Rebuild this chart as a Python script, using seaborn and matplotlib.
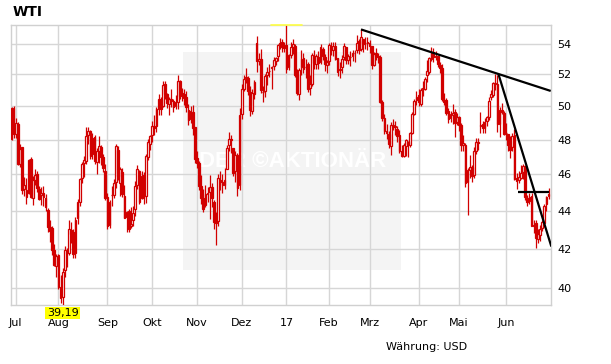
import numpy as np
import pandas as pd
import seaborn as sns
import matplotlib.pyplot as plt
from matplotlib.patches import Rectangle
from matplotlib.ticker import FixedLocator, NullLocator, FixedFormatter

# --------------------------------------------------------------------
# Daten: WTI Tageskerzen 29.06.2016 - 29.06.2017 (USD)
# --------------------------------------------------------------------
holidays = ["2016-07-04", "2016-09-05", "2016-11-24", "2016-12-26", "2017-01-02",
            "2017-01-16", "2017-02-20", "2017-04-14", "2017-05-29"]

opens = [
    48.02, 49.89,
    48.33, 48.91, 46.56, 47.56, 45.19, 45.15, 44.98, 46.89, 44.70, 45.67, 45.99, 45.20, 44.87, 44.94, 44.69, 44.01, 43.10, 43.05, 41.93, 41.11,
    41.65, 40.07, 39.59, 40.91, 41.76, 41.78, 42.96, 42.84, 41.75, 43.58, 44.49, 45.82, 46.64, 46.75, 48.26, 48.50, 47.18, 48.18, 46.72, 47.33, 47.58, 46.98, 46.20,
    44.72, 43.25, 44.83, 44.85, 45.56, 47.40, 45.49, 46.15, 44.82, 43.67, 43.95, 43.17, 43.47, 44.09, 45.40, 46.16, 44.67, 45.98, 44.77, 46.96, 47.72,
    48.30, 48.80, 48.80, 49.83, 50.46, 50.02, 51.40, 50.76, 50.12, 50.46, 50.34, 50.00, 50.28, 51.56, 50.78, 50.75, 50.60, 49.75, 49.23, 49.65, 48.74,
    46.92, 46.65, 45.34, 44.68, 44.28, 44.93, 45.00, 45.27, 44.49, 43.44, 43.43, 45.70, 45.55, 45.40, 46.32, 47.70, 48.03, 47.50, 46.16, 47.08, 45.40,
    49.53, 51.05, 51.80, 51.76, 50.91, 49.72, 50.79, 54.01, 52.86, 53.00, 50.88, 50.95, 51.95, 52.18, 52.38, 52.50, 52.88, 53.16, 53.98, 54.10, 53.87,
    53.87, 52.49, 53.22, 53.78, 53.86, 52.01, 50.73, 52.45, 53.06, 52.45, 52.67, 51.15, 51.40, 53.16, 52.65, 53.10, 52.82, 53.67, 53.13, 52.62,
    52.87, 53.80, 53.57, 53.85, 53.03, 52.25, 52.48, 53.10, 53.78, 52.95, 53.10, 53.15, 53.37, 53.60, 54.20, 53.64, 54.32, 54.01, 54.12,
    54.06, 53.81, 52.59, 53.35, 53.20, 53.11, 50.28, 49.31, 48.49, 48.35, 47.63, 48.87, 48.72, 48.62, 48.28, 47.34, 47.07, 47.62, 47.83, 47.71, 48.41, 49.50, 50.40,
    50.71, 50.15, 51.09, 51.10, 51.96, 52.13, 53.00, 53.41, 53.10, 53.15, 52.61, 52.40, 50.40, 50.38, 49.73, 49.26, 49.44, 49.66, 49.03,
    49.33, 48.89, 47.67, 47.67, 45.55, 46.25, 46.40, 45.94, 47.33, 47.82, 48.78, 48.91, 48.70, 49.10, 49.32, 50.60, 50.70, 51.47, 51.37, 48.94, 49.79, 49.61,
    48.36, 48.35, 47.63, 47.57, 48.28, 45.77, 45.66, 45.82, 46.14, 46.44, 44.67, 44.50, 44.81, 43.17, 43.31, 42.48, 42.71, 43.05, 43.36, 44.35, 44.81,
]
highs = [
    49.95, 50.00,
    49.27, 49.04, 47.76, 47.57, 45.83, 45.79, 46.90, 46.98, 45.91, 46.30, 46.19, 45.33, 45.29, 45.35, 44.88, 44.12, 43.47, 43.19, 42.23, 41.74,
    41.70, 40.65, 41.00, 42.14, 42.03, 43.52, 43.41, 43.02, 43.64, 44.61, 45.79, 46.72, 47.06, 48.75, 48.75, 48.57, 48.38, 48.28, 47.53, 48.20, 47.68, 47.17, 46.58,
    44.98, 44.57, 45.35, 45.75, 47.75, 47.60, 46.43, 46.35, 45.40, 44.00, 44.11, 44.18, 44.26, 45.62, 46.55, 46.24, 46.21, 46.15, 47.16, 48.06, 48.30,
    49.13, 49.47, 49.95, 50.74, 50.55, 51.60, 51.60, 50.80, 50.55, 51.07, 50.48, 50.70, 51.93, 51.64, 51.13, 51.05, 50.94, 50.12, 50.03, 50.07, 48.76,
    47.34, 46.76, 45.95, 45.19, 45.41, 45.30, 45.95, 45.49, 44.59, 43.90, 46.00, 46.20, 46.00, 46.35, 47.70, 48.45, 48.25, 47.50, 47.35, 47.23, 49.89,
    51.39, 51.98, 52.42, 51.90, 51.25, 51.05, 51.65, 54.51, 53.39, 53.62, 51.24, 52.00, 52.46, 52.67, 52.55, 53.10, 53.12, 53.95, 54.37, 54.30, 54.09,
    55.24, 53.31, 54.10, 54.30, 53.97, 52.36, 52.41, 53.60, 53.38, 52.96, 52.82, 51.93, 53.35, 53.58, 53.30, 53.48, 53.94, 53.75, 53.32, 52.91,
    54.03, 54.12, 54.08, 54.07, 53.07, 52.82, 53.24, 54.03, 53.80, 53.32, 53.50, 53.58, 53.55, 54.59, 54.33, 54.94, 54.33, 54.45, 54.42,
    54.24, 53.82, 53.45, 53.73, 53.40, 53.23, 50.37, 49.50, 48.91, 48.51, 49.04, 49.25, 49.08, 48.80, 48.58, 47.67, 47.78, 48.04, 47.89, 48.45, 49.65, 50.43, 50.92,
    51.07, 51.16, 51.60, 51.84, 52.94, 53.13, 53.76, 53.69, 53.49, 53.22, 52.80, 52.64, 50.84, 50.49, 49.92, 49.74, 50.13, 49.82, 49.58,
    49.43, 48.96, 48.25, 47.78, 46.33, 47.08, 46.53, 47.55, 48.12, 48.08, 49.66, 49.11, 49.28, 49.38, 50.55, 51.00, 51.53, 52.00, 51.96, 49.94, 50.20, 49.71,
    48.99, 48.35, 48.20, 48.40, 48.65, 46.07, 46.21, 46.55, 46.60, 46.53, 44.84, 44.95, 44.98, 43.50, 43.50, 43.02, 43.23, 43.50, 44.37, 44.82, 45.23,
]
lows = [
    48.00, 48.07,
    48.11, 46.51, 46.39, 44.93, 44.77, 44.36, 44.88, 44.71, 44.29, 45.40, 45.02, 44.55, 44.32, 44.27, 43.98, 42.85, 42.35, 41.66, 41.13, 40.57,
    39.99, 39.30, 39.19, 40.54, 41.06, 41.69, 42.27, 41.49, 41.50, 43.28, 44.23, 45.53, 45.83, 46.58, 47.74, 46.88, 46.87, 46.60, 46.04, 46.63, 46.53, 46.12, 44.58,
    43.00, 43.08, 44.25, 44.67, 45.22, 45.67, 44.77, 44.76, 43.58, 42.86, 42.88, 43.06, 43.16, 43.73, 45.19, 44.34, 44.62, 44.35, 44.42, 46.82, 47.37,
    47.83, 48.25, 48.47, 49.48, 49.49, 49.95, 50.42, 49.90, 49.49, 49.98, 49.66, 49.86, 49.83, 50.46, 50.31, 50.05, 49.68, 48.86, 48.98, 48.29, 46.63,
    46.33, 45.14, 44.37, 43.94, 44.22, 44.44, 43.57, 44.21, 43.02, 42.20, 43.19, 45.10, 44.95, 45.20, 46.30, 47.33, 47.23, 45.88, 45.59, 44.82, 45.12,
    49.20, 50.93, 51.47, 50.72, 49.38, 49.51, 50.43, 52.16, 52.60, 50.81, 50.26, 50.59, 51.32, 51.82, 51.05, 52.30, 52.62, 52.85, 53.66, 53.41, 53.41,
    52.11, 52.28, 53.02, 53.33, 51.80, 50.71, 50.41, 51.97, 52.10, 51.79, 50.91, 50.71, 51.23, 52.37, 52.35, 52.35, 52.67, 52.90, 52.24, 52.06,
    52.60, 53.25, 53.20, 52.95, 51.90, 51.76, 52.10, 52.95, 52.66, 52.65, 52.53, 52.87, 52.81, 53.38, 53.29, 53.50, 53.43, 53.62, 53.58,
    53.40, 52.37, 52.55, 52.93, 52.75, 50.22, 49.11, 48.34, 48.06, 47.51, 47.09, 48.58, 48.30, 47.86, 47.23, 47.01, 46.96, 47.05, 46.96, 47.58, 48.32, 49.45, 50.07,
    50.02, 49.99, 50.61, 51.02, 51.49, 52.05, 52.85, 52.82, 52.90, 52.49, 52.10, 50.31, 50.11, 49.46, 48.97, 49.03, 48.93, 48.18, 48.86,
    48.51, 47.35, 47.35, 45.27, 43.76, 45.80, 45.55, 45.81, 47.16, 47.39, 48.40, 48.39, 48.40, 48.79, 49.14, 50.37, 50.56, 51.00, 48.45, 48.18, 49.52, 48.28,
    47.95, 47.31, 46.95, 47.31, 45.70, 45.20, 45.52, 45.71, 45.76, 44.60, 44.24, 44.36, 43.16, 42.83, 42.05, 42.27, 42.41, 42.89, 43.11, 43.95, 44.63,
]
closes = [
    49.88, 48.33,
    48.99, 46.60, 47.43, 45.14, 45.41, 44.76, 46.80, 44.75, 45.68, 45.95, 45.24, 44.65, 44.94, 44.75, 44.19, 43.13, 42.92, 41.92, 41.14, 41.60,
    40.06, 39.51, 40.83, 41.93, 41.80, 43.02, 42.77, 41.71, 43.49, 44.49, 45.74, 46.58, 46.79, 48.22, 48.52, 47.05, 48.10, 46.77, 47.33, 47.64, 46.98, 46.35, 44.70,
    43.16, 44.44, 44.83, 45.50, 47.62, 45.88, 46.29, 44.90, 43.58, 43.91, 43.03, 43.30, 43.85, 45.34, 46.32, 44.48, 45.93, 44.67, 47.05, 47.83, 48.24,
    48.81, 48.69, 49.83, 50.44, 49.81, 51.35, 50.79, 50.18, 50.44, 50.35, 49.94, 50.29, 51.60, 50.63, 50.85, 50.52, 49.96, 49.18, 49.72, 48.70, 46.86,
    46.67, 45.34, 44.66, 44.07, 44.89, 44.98, 45.27, 44.66, 43.41, 43.32, 45.81, 45.57, 45.42, 45.69, 47.49, 48.03, 47.96, 46.06, 47.08, 45.23, 49.44,
    51.06, 51.68, 51.79, 50.93, 49.77, 50.84, 51.50, 52.83, 52.98, 51.04, 50.90, 51.90, 52.12, 52.23, 52.49, 52.95, 53.02, 53.90, 54.06, 53.77, 53.72,
    52.33, 53.26, 53.76, 53.99, 51.96, 50.82, 52.25, 53.01, 52.37, 52.48, 51.08, 51.37, 53.22, 52.75, 53.18, 52.75, 53.78, 53.17, 52.63, 52.81,
    53.88, 53.54, 53.83, 53.01, 52.17, 52.34, 53.00, 53.86, 52.93, 53.20, 53.11, 53.36, 53.40, 54.06, 53.59, 54.45, 53.99, 54.05, 54.01,
    53.83, 52.61, 53.33, 53.20, 53.14, 50.28, 49.28, 48.49, 48.40, 47.72, 48.86, 48.75, 48.78, 48.22, 47.34, 47.04, 47.70, 47.97, 47.73, 48.37, 49.51, 50.35, 50.60,
    50.24, 51.03, 51.15, 51.70, 52.24, 53.08, 53.40, 53.11, 53.18, 52.65, 52.41, 50.44, 50.27, 49.62, 49.23, 49.56, 49.62, 48.97, 49.33,
    48.84, 47.66, 47.82, 45.52, 46.22, 46.43, 45.88, 47.33, 47.83, 47.84, 48.85, 48.66, 49.07, 49.35, 50.33, 50.73, 51.47, 51.36, 48.90, 49.80, 49.66, 48.32,
    48.36, 47.66, 47.40, 48.19, 45.72, 45.64, 45.83, 46.08, 46.46, 44.73, 44.46, 44.74, 43.20, 43.23, 42.53, 42.74, 43.01, 43.38, 44.24, 44.74, 44.93,
]

month_labels = ["Jul", "Aug", "Sep", "Okt", "Nov", "Dez", "17", "Feb", "Mrz", "Apr", "Mai", "Jun"]
y_ticks = [40, 42, 44, 46, 48, 50, 52, 54]

# Trendlinien (Kerzen-Index, Kurs)
resist_x, resist_y = [164, 253], [54.94, 50.95]
steep_x, steep_y = [228.5, 253.3], [52.0, 42.1]
flat_x, flat_y = [237.8, 252.4], [45.04, 45.04]

RED = "#d10000"

# --------------------------------------------------------------------
dates = pd.bdate_range("2016-06-29", "2017-06-29", freq="C", holidays=holidays)
n = min(len(dates), len(closes))
df = pd.DataFrame({
    "date": dates[:n],
    "open": opens[:n], "high": highs[:n], "low": lows[:n], "close": closes[:n],
})
df["idx"] = np.arange(n)
up = df["close"] >= df["open"]

sns.set_theme(style="white")
plt.rcParams["font.family"] = ["DejaVu Sans"]
plt.rcParams["text.color"] = "black"

fig = plt.figure(figsize=(6.11, 3.64), dpi=100)
ax = fig.add_axes([10.5 / 611, 59 / 364, 540 / 611, 280 / 364])
ax.set_yscale("log")
ax.set_axisbelow(True)

# Hintergrundfeld mit Wasserzeichen
ax.add_patch(Rectangle((0.319, 0.125), 0.404, 0.779, transform=ax.transAxes,
                       facecolor="#f4f4f4", edgecolor="none", zorder=0.1))
ax.text(0.522, 0.511, "DER \u00a9AKTION\u00c4R", transform=ax.transAxes,
        ha="center", va="center", color="white", fontsize=16, fontweight="bold",
        family=["Liberation Sans"], zorder=0.3)

# Kerzen
ax.vlines(df["idx"], df["low"], df["high"], color=RED, linewidth=0.9, zorder=3)
d_up = df[up]
d_dn = df[~up]
ax.bar(d_up["idx"], d_up["close"] - d_up["open"], bottom=d_up["open"], width=0.8,
       facecolor="white", edgecolor=RED, linewidth=0.9, zorder=4)
ax.bar(d_dn["idx"], d_dn["open"] - d_dn["close"], bottom=d_dn["close"], width=0.8,
       facecolor=RED, edgecolor=RED, linewidth=0.9, zorder=4)

# Trendlinien
for xs, ys in ((resist_x, resist_y), (steep_x, steep_y), (flat_x, flat_y)):
    ax.plot(xs, ys, color="black", linewidth=1.6, zorder=5, solid_capstyle="butt")

ymin, ymax = df["low"].min(), df["high"].max()
ax.set_ylim(ymin, ymax)
ax.set_xlim(-0.47, 252.9)

# Min / Max Markierungen
i_min = int(df["low"].idxmin())
i_max = int(df["high"].idxmax())
ax.annotate(f"{ymin:.2f}".replace(".", ","), xy=(i_min, ymin), xytext=(0, -2.2),
            textcoords="offset points", ha="center", va="top", fontsize=8, color="black",
            bbox=dict(boxstyle="square,pad=0.12", facecolor="#ffff00", edgecolor="none"),
            annotation_clip=False, zorder=6)
ax.plot([i_max - 7.3, i_max + 7.3], [ymax, ymax], color="#ffff44", linewidth=1.2,
        clip_on=False, zorder=6)

# Achsen
month_start = [i for i in range(1, n) if df["date"][i].month != df["date"][i - 1].month]
ax.xaxis.set_major_locator(FixedLocator(month_start))
ax.xaxis.set_major_formatter(FixedFormatter(month_labels[:len(month_start)]))
ax.yaxis.set_major_locator(FixedLocator(y_ticks))
ax.yaxis.set_minor_locator(NullLocator())
ax.yaxis.set_major_formatter(FixedFormatter([str(t) for t in y_ticks]))
ax.yaxis.tick_right()
ax.tick_params(axis="both", length=0, labelsize=8, labelcolor="black")
ax.tick_params(axis="x", pad=9)
ax.tick_params(axis="y", pad=5)
ax.grid(True, color="#d6d6d6", linewidth=1.0)
for sp in ax.spines.values():
    sp.set_color("#d0d0d0")
    sp.set_linewidth(1.0)

fig.text(13 / 611, 1 - 12 / 364, "WTI", fontsize=10, fontweight="bold", va="center", color="black")
fig.text(467 / 611, 1 - 347 / 364, "W\u00e4hrung: USD", fontsize=8, ha="right", va="center", color="black")

plt.savefig("out.png", dpi=100)
plt.close()
